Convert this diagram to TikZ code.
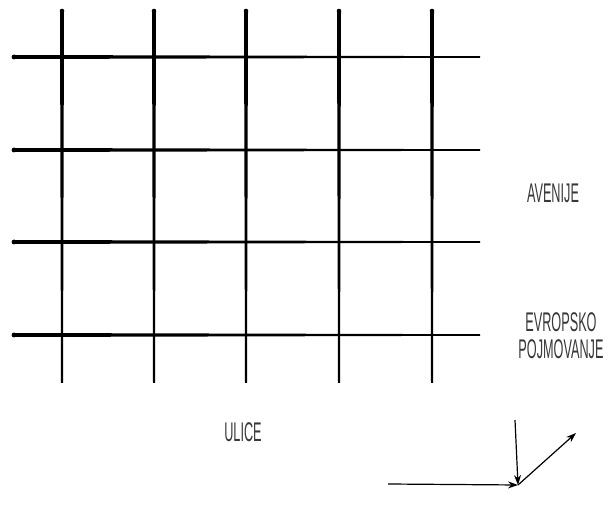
\documentclass[tikz,border=0pt]{standalone}
\usepackage{fontspec}
\newfontfamily\handfont{Liberation Sans}[FakeStretch=0.47]
\usetikzlibrary{arrows.meta}
\tikzset{
  street/.style={fill=black},
  lbl/.style={font=\handfont\fontsize{27}{27}\selectfont, text=black!78, align=center, inner sep=0pt},
  arr/.style={line width=1.2pt, -{Stealth[length=10pt,width=7pt]}}
}
\begin{document}
\begin{tikzpicture}[x=1pt,y=-1pt]
\useasboundingbox (0,0) rectangle (608,518);
% vertical streets (tapered)
\foreach \x in {62,154,246,339,432}{
  \fill[street] (\x-2.0,12) -- (\x+2.0,12) -- (\x+1.0,383) -- (\x-1.0,383) -- cycle;
  \fill[street] (\x,11) circle (2.3);
}
% horizontal avenues (tapered)
\foreach \y in {57,150,242,335}{
  \fill[street] (14,\y-2.0) -- (14,\y+2.0) -- (480,\y+0.8) -- (480,\y-0.8) -- cycle;
  \fill[street] (14,\y) circle (2.4);
}
\node[lbl] (aven) at (553,193) {AVENIJE};
\node[lbl] (evro) at (561,336) {EVROPSKO\\POJMOVANJE};
\node[lbl] (ulic) at (243,432) {ULICE};
\coordinate (o) at (518,485);
\coordinate (h) at (388,484);
\coordinate (v) at (515,420);
\coordinate (d) at (576,433);
\draw[arr] (h) -- (o);
\draw[arr] (v) -- (o);
\draw[arr] (o) -- (d);
\end{tikzpicture}
\end{document}
